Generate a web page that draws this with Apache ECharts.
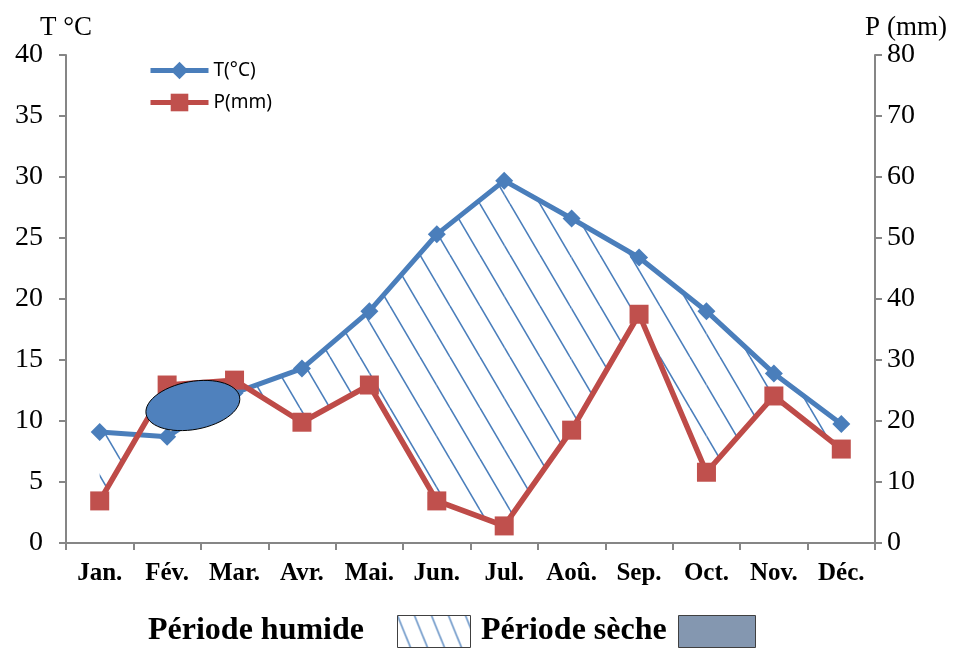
<!DOCTYPE html>
<html>
<head>
<meta charset="utf-8">
<script src="https://cdn.jsdelivr.net/npm/echarts@6/dist/echarts.min.js"></script>
<style>
  html, body { margin: 0; padding: 0; background: #fff; }
  #main { width: 957px; height: 648px; }
</style>
</head>
<body>
<div id="main"></div>
<script>
  const months = ['Jan.', 'Fév.', 'Mar.', 'Avr.', 'Mai.', 'Jun.', 'Jul.', 'Aoû.', 'Sep.', 'Oct.', 'Nov.', 'Déc.'];
  const temperature = [9.1, 8.7, 12.3, 14.3, 19.0, 25.3, 29.7, 26.6, 23.4, 19.0, 13.9, 9.75];
  const precipitation = [6.9, 25.9, 26.7, 19.8, 25.9, 6.9, 2.8, 18.5, 37.5, 11.6, 24.1, 15.4];

  const blue = '#4A7EBB';
  const red = '#BE4B48';
  const serif = 'Liberation Serif';

  // diagonal hatch tile
  function makeHatch(w, h, color, lw) {
    let c = document.createElement('canvas');
    c.width = w;
    c.height = h;
    let ctx = c.getContext('2d');
    ctx.strokeStyle = color;
    ctx.lineWidth = lw;
    for (let k = -1; k <= 1; k++) {
      ctx.beginPath();
      ctx.moveTo(k * w, 0);
      ctx.lineTo(k * w + w, h);
      ctx.stroke();
    }
    return c;
  }
  const hatch = { image: makeHatch(30, 51, blue, 1.6), repeat: 'repeat' };
  const hatchSmall = { image: makeHatch(17, 42, blue, 1.3), repeat: 'repeat' };

  function lerp(p, q, t) {
    return [p[0] + t * (q[0] - p[0]), p[1] + t * (q[1] - p[1])];
  }

  // P is drawn on the T scale (P = 2T); crossings interpolated in pixel space
  function regions(api) {
    let wet = [];
    let crossings = [];
    for (let i = 0; i < months.length - 1; i++) {
      let a = temperature[i] - precipitation[i] / 2;
      let b = temperature[i + 1] - precipitation[i + 1] / 2;
      let T0 = api.coord([i, temperature[i]]), T1 = api.coord([i + 1, temperature[i + 1]]);
      let P0 = api.coord([i, precipitation[i] / 2]), P1 = api.coord([i + 1, precipitation[i + 1] / 2]);
      if (a >= 0 && b >= 0) {
        wet.push([T0, T1, P1, P0]);
      } else if ((a >= 0) !== (b >= 0)) {
        let X = lerp(T0, T1, a / (a - b));
        crossings.push(X);
        wet.push(a >= 0 ? [T0, X, P0] : [X, T1, P1]);
      }
    }
    return { wet: wet, crossings: crossings };
  }

  function renderHatch(params, api) {
    let r = regions(api);
    return {
      type: 'group',
      children: r.wet.map(pts => ({
        type: 'polygon',
        shape: { points: pts },
        style: { fill: hatch, stroke: null }
      }))
    };
  }

  // dry period drawn as a blob between the two crossings
  function renderBlob(params, api) {
    let c = regions(api).crossings;
    if (c.length < 2) return;
    let c0 = c[0], c1 = c[1];
    let cx = (c0[0] + c1[0]) / 2, cy = (c0[1] + c1[1]) / 2 - 6;
    let ang = Math.atan2(c1[1] - c0[1], c1[0] - c0[0]) * 0.45;
    let rx = 0.4 * Math.hypot(c1[0] - c0[0], c1[1] - c0[1]);
    let ry = 24;
    let ell = [];
    for (let k = 0; k < 60; k++) {
      let s = k / 60 * Math.PI * 2;
      let ex = rx * Math.cos(s), ey = ry * Math.sin(s);
      ell.push([cx + ex * Math.cos(ang) - ey * Math.sin(ang), cy + ex * Math.sin(ang) + ey * Math.cos(ang)]);
    }
    return {
      type: 'polygon',
      shape: { points: ell },
      style: { fill: '#4F81BD', stroke: '#000', lineWidth: 1 }
    };
  }

  let chart = echarts.init(document.getElementById('main'));

  let axisLine = { show: true, lineStyle: { color: '#868686', width: 2 } };
  let axisTick = { show: true, length: 7, lineStyle: { color: '#868686', width: 2 } };

  let option = {
    animation: false,
    backgroundColor: '#fff',
    grid: { left: 66, right: 82, top: 55, bottom: 105 },
    legend: {
      orient: 'vertical',
      left: 143,
      top: 56,
      itemWidth: 58,
      itemHeight: 22,
      itemGap: 13,
      lineStyle: { width: 5 },
      textStyle: { fontFamily: 'Noto Sans', fontSize: 19, color: '#000' },
      data: ['T(°C)', 'P(mm)']
    },
    xAxis: {
      type: 'category',
      data: months,
      boundaryGap: true,
      axisLine: axisLine,
      axisTick: axisTick,
      axisLabel: { fontFamily: serif, fontWeight: 'bold', fontSize: 25, color: '#000', margin: 18, interval: 0 },
      splitLine: { show: false }
    },
    yAxis: [
      {
        type: 'value',
        min: 0, max: 40, interval: 5,
        position: 'left',
        name: 'T °C',
        nameLocation: 'end',
        nameGap: 14,
        nameTextStyle: { fontFamily: serif, fontSize: 27, color: '#000', align: 'center' },
        axisLine: axisLine,
        axisTick: axisTick,
        axisLabel: { fontFamily: serif, fontSize: 28, color: '#000', margin: 23 },
        splitLine: { show: false }
      },
      {
        type: 'value',
        min: 0, max: 80, interval: 10,
        position: 'right',
        name: 'P (mm)',
        nameLocation: 'end',
        nameGap: 14,
        nameTextStyle: { fontFamily: serif, fontSize: 27, color: '#000', align: 'center', padding: [0, 0, 0, 62] },
        axisLine: axisLine,
        axisTick: axisTick,
        axisLabel: { fontFamily: serif, fontSize: 28, color: '#000', margin: 12 },
        splitLine: { show: false }
      }
    ],
    series: [
      {
        type: 'custom',
        coordinateSystem: 'cartesian2d',
        yAxisIndex: 0,
        z: 1,
        silent: true,
        data: [[0, 0]],
        renderItem: renderHatch
      },
      {
        name: 'T(°C)',
        type: 'line',
        yAxisIndex: 0,
        z: 3,
        data: temperature,
        symbol: 'diamond',
        symbolSize: 18,
        lineStyle: { color: blue, width: 5 },
        itemStyle: { color: blue }
      },
      {
        name: 'P(mm)',
        type: 'line',
        yAxisIndex: 1,
        z: 3,
        data: precipitation,
        symbol: 'rect',
        symbolSize: 19,
        lineStyle: { color: red, width: 5.5 },
        itemStyle: { color: '#C0504D' }
      },
      {
        type: 'custom',
        coordinateSystem: 'cartesian2d',
        yAxisIndex: 0,
        z: 5,
        silent: true,
        data: [[0, 0]],
        renderItem: renderBlob
      }
    ],
    graphic: [
      {
        type: 'text', left: 148, top: 615,
        style: { text: 'Période humide', font: 'bold 32px "Liberation Serif"', fill: '#000' }
      },
      {
        type: 'rect', left: 397, top: 615,
        shape: { width: 73, height: 32 },
        style: { fill: hatchSmall, stroke: '#404040', lineWidth: 1 }
      },
      {
        type: 'text', left: 481, top: 615,
        style: { text: 'Période sèche', font: 'bold 32px "Liberation Serif"', fill: '#000' }
      },
      {
        type: 'rect', left: 678, top: 615,
        shape: { width: 77, height: 32 },
        style: { fill: '#8497B0', stroke: '#404040', lineWidth: 1 }
      }
    ]
  };

  chart.setOption(option);
</script>
</body>
</html>
